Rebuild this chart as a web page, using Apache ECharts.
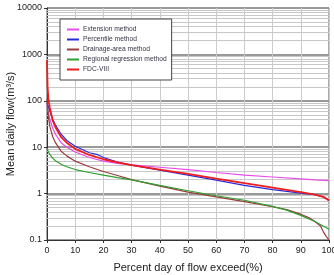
<!DOCTYPE html>
<html>
<head>
<meta charset="utf-8">
<script src="https://cdn.jsdelivr.net/npm/echarts@6/dist/echarts.min.js"></script>
<style>
  html, body { margin: 0; padding: 0; background: #fff; }
  #chart { width: 334px; height: 275px; }
</style>
</head>
<body>
<div id="chart"></div>
<script>
// legend names
const names = ['Extension method', 'Percentile method', 'Drainage-area method', 'Regional regression method', 'FDC-VIII'];
const colors = ['#e84ce8', '#2a2ad8', '#9a3c3c', '#2f9e2f', '#ee1c1c'];

// percent of days flow exceeded (x) and flow values
const extX = [0, 0.5, 1, 2, 3, 5, 7, 10, 15, 20, 25, 30, 40, 50, 60, 70, 80, 90, 95, 100];
const extY = [80, 55, 40, 26, 19, 12.5, 10, 7.9, 6.0, 5.0, 4.5, 4.15, 3.7, 3.3, 2.85, 2.5, 2.28, 2.08, 1.98, 1.9];

const pctX = [0, 0.5, 1, 2, 3, 5, 7, 10, 15, 18, 20, 25, 30, 40, 50, 60, 70, 80, 90, 95, 98, 100];
const pctY = [90, 75, 60, 40, 30, 19, 14, 10.5, 7.6, 6.9, 6.0, 4.8, 4.1, 3.2, 2.5, 1.95, 1.5, 1.22, 1.02, 0.95, 0.85, 0.7];

const drnX = [0, 0.5, 1, 2, 3, 5, 7, 10, 15, 20, 25, 30, 40, 50, 60, 70, 80, 85, 90, 93, 95, 97, 98, 99, 100];
const drnY = [110, 45, 28, 17, 12.5, 8.2, 6.5, 5.0, 3.8, 3.0, 2.45, 2.0, 1.45, 1.08, 0.85, 0.67, 0.52, 0.45, 0.36, 0.3, 0.25, 0.2, 0.15, 0.12, 0.1];

const regX = [0, 0.5, 1, 2, 3, 5, 7, 10, 15, 20, 25, 30, 40, 50, 60, 70, 80, 85, 90, 95, 100];
const regY = [9.5, 8, 7, 5.8, 5.1, 4.3, 3.8, 3.3, 2.85, 2.5, 2.2, 1.97, 1.5, 1.15, 0.9, 0.72, 0.53, 0.44, 0.34, 0.25, 0.17];

const fdcX = [0, 0.2, 0.5, 1, 2, 3, 5, 7, 10, 15, 20, 25, 30, 40, 50, 60, 70, 80, 90, 95, 98, 100];
const fdcY = [750, 200, 110, 70, 38, 27, 16.5, 12.5, 9.2, 6.8, 5.5, 4.7, 4.1, 3.3, 2.65, 2.1, 1.68, 1.35, 1.08, 0.95, 0.85, 0.72];

const decades = [0.1, 1, 10, 100, 1000, 10000];
const minorSteps = [2, 3, 4, 5, 6, 7, 8, 9];

const pairs = (xs, ys) => xs.map((x, i) => [x, ys[i]]);
const seriesData = [pairs(extX, extY), pairs(pctX, pctY), pairs(drnX, drnY), pairs(regX, regY), pairs(fdcX, fdcY)];

var minorLines = [];
decades.slice(0, -1).forEach(d => {
  minorSteps.forEach(s => minorLines.push({ yAxis: +(d * s).toPrecision(3) }));
});

var chart = echarts.init(document.getElementById('chart'));
var option = {
  animation: false,
  grid: {
    left: 47, right: 5, top: 8, bottom: 35,
    outerBoundsMode: 'none',
    show: true, borderColor: '#555', borderWidth: 1
  },
  legend: {
    orient: 'vertical',
    left: 60, top: 19,
    backgroundColor: '#fff',
    borderColor: '#444', borderWidth: 1,
    padding: [6, 5, 6, 7],
    itemGap: 1,
    itemWidth: 12, itemHeight: 2,
    icon: 'rect',
    textStyle: { fontSize: 6.7, color: '#334', lineHeight: 9, padding: [0, 0, 0, -1], fontFamily: 'Liberation Sans' },
    data: names
  },
  xAxis: {
    type: 'value',
    min: 0, max: 100, interval: 10,
    name: 'Percent day of flow exceed(%)',
    nameLocation: 'middle', nameGap: 22, nameMoveOverlap: false,
    nameTextStyle: { fontSize: 11, color: '#222', fontFamily: 'Liberation Sans' },
    axisLine: { lineStyle: { color: '#333' } },
    axisTick: { length: 3, lineStyle: { color: '#333' } },
    axisLabel: { fontSize: 9, color: '#222', margin: 6, fontFamily: 'Liberation Sans' },
    splitLine: { show: true, lineStyle: { color: '#ccc', width: 1 } }
  },
  yAxis: {
    type: 'log',
    logBase: 10,
    min: 0.1, max: 10000,
    name: 'Mean daily flow(m³/s)',
    nameLocation: 'middle', nameGap: 31, nameMoveOverlap: false,
    nameTextStyle: { fontSize: 11, color: '#222', fontFamily: 'Liberation Sans' },
    axisLine: { lineStyle: { color: '#333' } },
    axisTick: { length: 3, lineStyle: { color: '#333' } },
    axisLabel: { fontSize: 9, color: '#222', margin: 5, fontFamily: 'Liberation Sans', formatter: v => String(v) },
    splitLine: { show: true, lineStyle: { color: '#999', width: 2 } }
  },
  series: names.map((n, i) => ({
    name: n,
    type: 'line',
    data: seriesData[i],
    showSymbol: false,
    symbol: 'none',
    z: 3 + i,
    lineStyle: { color: colors[i], width: i === 4 ? 1.8 : 1.2 },
    itemStyle: { color: colors[i] },
    markLine: i === 0 ? {
      silent: true, symbol: 'none', label: { show: false },
      lineStyle: { color: '#c8c8c8', width: 1, type: 'solid' },
      z: 1,
      data: minorLines
    } : undefined
  }))
};
chart.setOption(option);
</script>
</body>
</html>
